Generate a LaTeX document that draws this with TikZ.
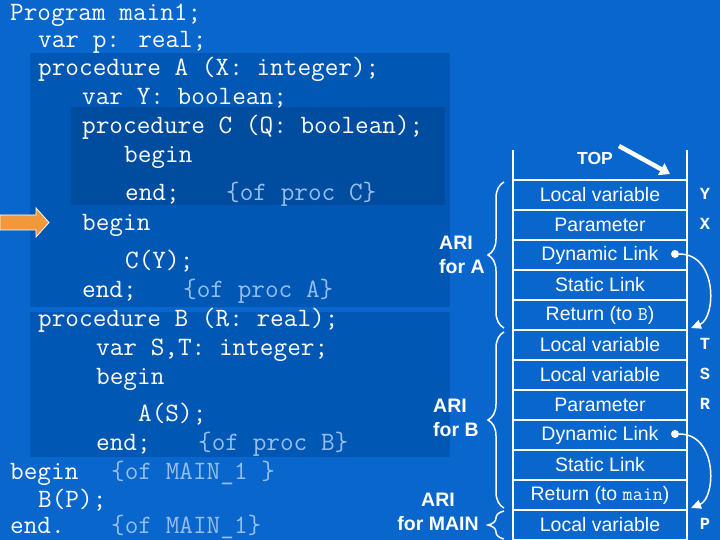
\documentclass[tikz,border=0pt]{standalone}
\usepackage{fontspec}
\setmainfont{Liberation Sans}
\newfontfamily\labelmono{Liberation Mono}
\usetikzlibrary{arrows.meta}
\usetikzlibrary{decorations.pathreplacing}

\definecolor{slidebg}{RGB}{8,102,204}
\definecolor{scopeA}{RGB}{0,88,180}
\definecolor{scopeC}{RGB}{0,76,158}
\definecolor{commentblue}{RGB}{150,190,240}
\definecolor{pointer}{RGB}{242,152,60}

\begin{document}
\begin{tikzpicture}[x=1pt,y=-1pt,
        codeline/.style={anchor=base west, inner sep=0pt, text=white, font=\ttfamily\fontsize{26.5}{30}\selectfont},
        comment/.style={codeline, text=commentblue},
        cell/.style={draw=white, line width=2pt, minimum width=174pt, minimum height=30pt, inner sep=0pt, text=white, font=\fontsize{19.5}{24}\selectfont},
        varname/.style={text=white, inner sep=0pt, font=\labelmono\bfseries\fontsize{17}{20}\selectfont},
        arilabel/.style={text=white, inner sep=0pt, font=\bfseries\fontsize{19.5}{24}\selectfont},
        aribrace/.style={draw=white, line width=1.5pt, decorate, decoration={brace, amplitude=16pt, aspect=0.5}},
        dot/.style={circle, fill=white, minimum size=8pt, inner sep=0pt},
        link/.style={draw=white, line width=1.5pt, -{Triangle[length=10pt,width=9pt]}}]
        % background and scope shading
        \fill[slidebg] (0,0) rectangle (720,540);
        \useasboundingbox (0,0) rectangle (720,540);
        \fill[scopeA] (30,53) rectangle (450,307);
        \fill[scopeC] (71,107) rectangle (445,205);
        \fill[scopeA] (30,312) rectangle (450,457);

        % program text
        \node[codeline] (l1) at (10,20.5) {Program main1;};
        \node[codeline] (l2) at (38,48) {var p: real;};
        \node[codeline] (l3) at (38,76) {procedure A (X: integer);};
        \node[codeline] (l4) at (82,105) {var Y: boolean;};
        \node[codeline] (l5) at (82,134) {procedure C (Q: boolean);};
        \node[codeline] (l6) at (124,163) {begin};
        \node[codeline] (l7) at (125,201) {end;};
        \node[comment] (c7) at (226,201) {\{of proc C\}};
        \node[codeline] (l8) at (82,230) {begin};
        \node[codeline] (l9) at (125,268) {C(Y);};
        \node[codeline] (l10) at (82,297) {end;};
        \node[comment] (c10) at (183,297) {\{of proc A\}};
        \node[codeline] (l11) at (38,326) {procedure B (R: real);};
        \node[codeline] (l12) at (96,355) {var S,T: integer;};
        \node[codeline] (l13) at (96,384) {begin};
        \node[codeline] (l14) at (138,421) {A(S);};
        \node[codeline] (l15) at (96,450) {end;};
        \node[comment] (c15) at (198,450) {\{of proc B\}};
        \node[codeline] (l16) at (10,479) {begin};
        \node[comment] (c16) at (111,479) {\{of MAIN\_1 \}};
        \node[codeline] (l17) at (38,507) {B(P);};
        \node[codeline] (l18) at (10,533.5) {end.};
        \node[comment] (c18) at (111,533.5) {\{of MAIN\_1\}};

        % current statement pointer
        \filldraw[fill=pointer, draw=white, line width=0.8pt] (0,215) -- (36,215) -- (36,208) -- (49,222.5) -- (36,237) -- (36,230) -- (0,230) -- cycle;

        % stack
        \draw[white, line width=2pt] (513,150) -- (513,180);
        \draw[white, line width=2pt] (687,150) -- (687,180);
        \node[arilabel, font=\bfseries\fontsize{17.5}{20}\selectfont] (top) at (595,158) {TOP};
        \coordinate (topstart) at (619,146);
        \coordinate (topend) at (670,174);
        \draw[white, line width=4.5pt, -{Triangle[length=10pt,width=13pt]}] (topstart) -- (topend);

        \node[cell] (ya) at (600,195) {Local variable};
        \node[cell] (xa) at (600,225) {Parameter};
        \node[cell] (dla) at (600,255) {Dynamic Link\hspace{18pt}};
        \node[cell] (sla) at (600,285) {Static Link};
        \node[cell] (rta) at (600,315) {Return (to {\ttfamily B})};
        \node[cell] (tb) at (600,345) {Local variable};
        \node[cell] (sb) at (600,375) {Local variable};
        \node[cell] (rb) at (600,405) {Parameter};
        \node[cell] (dlb) at (600,435) {Dynamic Link\hspace{18pt}};
        \node[cell] (slb) at (600,465) {Static Link};
        \node[cell] (rtb) at (600,495) {Return (to {\ttfamily main})};
        \node[cell] (pm) at (600,525) {Local variable};

        % variable names
        \node[varname] (vy) at (705,194) {Y};
        \node[varname] (vx) at (705,224) {X};
        \node[varname] (vt) at (705,344) {T};
        \node[varname] (vs) at (705,374) {S};
        \node[varname] (vr) at (705,404) {R};
        \node[varname] (vp) at (705,524) {P};

        % dynamic links
        \node[dot] (dota) at (675,254) {};
        \node[dot] (dotb) at (675,434) {};
        \coordinate (enda) at (691,328);
        \coordinate (endb) at (691,508);
        \draw[link] (dota) .. controls (718,254) and (716,318) .. (enda);
        \draw[link] (dotb) .. controls (718,434) and (716,498) .. (endb);

        % activation records
        \draw[aribrace] ([xshift=-8pt,yshift=3pt]rta.south west) -- ([xshift=-8pt,yshift=-3pt]ya.north west);
        \draw[aribrace] ([xshift=-8pt,yshift=3pt]rtb.south west) -- ([xshift=-8pt,yshift=-3pt]tb.north west);
        \draw[aribrace] ([xshift=-8pt,yshift=2pt]pm.south west) -- ([xshift=-8pt,yshift=-2pt]pm.north west);
        \node[arilabel, anchor=west, align=left] (aria) at (439,255) {ARI\\for A};
        \node[arilabel, anchor=west, align=left] (arib) at (433,418) {ARI\\for B};
        \node[arilabel, align=center] (arim) at (438,512) {ARI\\for MAIN};
\end{tikzpicture}
\end{document}
